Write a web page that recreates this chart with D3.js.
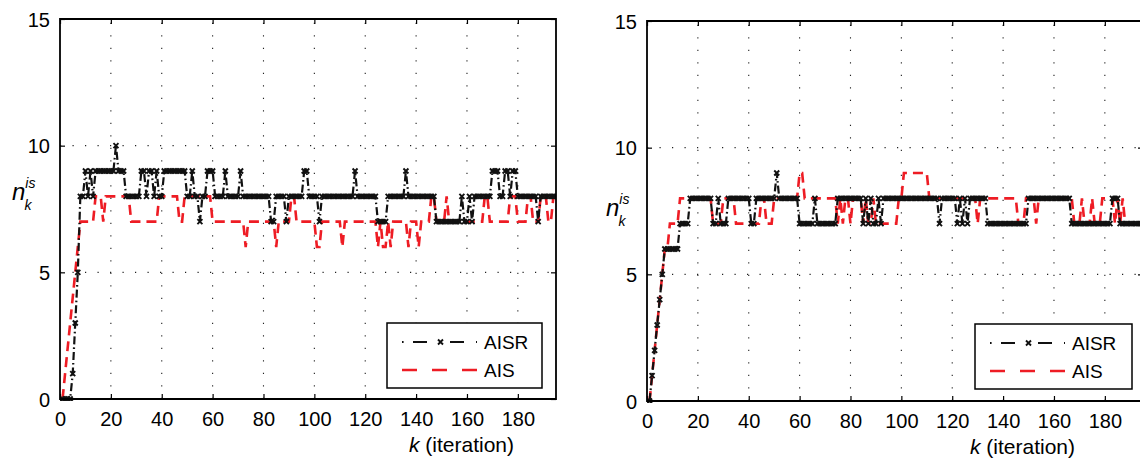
<!DOCTYPE html>
<html>
<head>
<meta charset="utf-8">
<script src="https://cdn.jsdelivr.net/npm/d3@7"></script>
<style>
  html, body { margin: 0; padding: 0; background: #fff; }
  svg { display: block; }
</style>
</head>
<body>
<svg id="chart" width="1140" height="462"></svg>
<script>
// Number of active items n_k^is per iteration k (k = 1..195), two runs.
const xTicks = [0, 20, 40, 60, 80, 100, 120, 140, 160, 180];
const yTicks = [0, 5, 10, 15];
const seriesNames = ["AISR", "AIS"];

const leftAISR = [
  0,0,0,0,1,3,5,8,8,9, 8,9,8,9,9,9,9,9,9,9, 9,10,9,9,9,8,8,8,8,8,
  8,9,9,8,9,9,8,9,8,8, 9,9,9,9,9,9,9,9,9,8, 8,9,8,8,7,8,8,9,9,9,
  8,8,8,8,9,8,8,8,8,8, 9,8,8,8,8,8,8,8,8,8, 8,8,7,7,8,8,8,8,7,8,
  8,8,8,8,8,9,9,8,8,8, 8,7,8,8,8,8,8,8,8,8, 8,8,8,8,8,9,8,8,8,8,
  8,8,8,8,7,7,7,7,8,8, 8,8,8,8,8,9,8,8,8,8, 8,8,8,8,8,8,8,7,7,7,
  7,7,7,7,7,7,7,8,7,7, 8,7,8,8,8,8,8,8,8,9, 9,9,8,8,9,9,8,9,9,8,
  8,8,8,8,8,8,8,7,8,8, 8,8,8,8,8
];
const leftAIS = [
  0,1,2,3,4,5,6,7,7,7, 7,7,7,8,8,8,7,8,8,8, 8,8,8,8,8,8,8,7,7,7,
  7,7,7,7,7,7,7,7,8,8, 8,8,8,8,8,8,7,7,8,8, 8,8,8,8,8,8,8,8,8,7,
  7,7,7,7,7,7,7,7,7,7, 7,7,6,7,7,7,7,7,7,7, 7,7,7,7,6,7,7,7,7,7,
  8,8,7,7,7,7,7,7,7,7, 6,6,7,7,7,7,7,7,7,7, 6,7,7,7,7,7,7,7,7,7,
  7,7,7,7,6,7,6,6,7,6, 7,7,7,7,7,7,6,7,7,7, 6,7,7,7,7,8,8,7,7,7,
  7,8,7,7,7,7,7,7,7,7, 7,7,7,7,7,7,8,8,7,7, 7,7,7,7,7,7,8,8,8,7,
  7,7,7,8,8,7,7,7,8,8, 8,7,7,8,8
];
const rightAISR = [
  0,1,2,3,4,5,6,6,6,6, 6,6,7,7,7,7,8,8,8,8, 8,8,8,8,8,7,7,8,7,7,
  7,8,8,8,8,8,8,8,8,8, 7,7,8,8,8,8,8,8,8,8, 9,8,8,8,8,8,8,8,8,7,
  7,7,7,7,7,8,7,7,7,7, 7,7,7,7,8,8,8,8,8,8, 8,8,8,8,7,8,7,8,7,7,
  8,7,8,8,8,8,8,8,8,8, 8,8,8,8,8,8,8,8,8,8, 8,8,8,8,7,8,8,8,8,8,
  8,7,8,7,8,7,8,8,8,8, 8,8,8,7,7,7,7,7,7,7, 7,7,7,7,7,7,7,7,7,8,
  8,8,8,8,8,8,8,8,8,8, 8,8,8,8,8,8,7,7,7,7, 7,7,7,7,7,7,7,7,7,7,
  7,7,8,8,8,7,7,7,7,7, 7,7,7,7,7
];
const rightAIS = [
  0,1,2,3,4,5,6,6,7,7, 7,7,8,8,8,8,8,8,8,8, 8,8,8,8,8,7,7,7,7,8,
  8,8,8,8,7,7,7,7,7,7, 7,7,7,7,8,8,7,7,7,8, 8,8,8,8,8,8,8,8,8,9,
  9,8,8,8,8,8,8,8,8,8, 8,8,8,8,7,8,7,8,8,7, 8,8,8,8,7,8,7,7,8,7,
  7,7,7,7,7,7,7,7,8,8, 9,9,9,9,9,9,9,9,9,9, 8,8,8,8,8,8,8,8,8,8,
  8,8,8,8,8,8,8,8,8,7, 8,8,8,8,8,8,8,8,8,8, 8,8,8,8,8,7,7,7,8,8,
  8,8,7,8,8,8,8,8,8,8, 8,8,8,8,8,8,8,7,7,7, 8,7,7,7,8,7,7,7,8,8,
  8,8,8,7,8,7,8,7,7,7, 7,7,7,7,7
];

const svg = d3.select("#chart");
const red = "#ee1c24";
const font = "'Liberation Sans', Arial, sans-serif";

// x-marker glyph used on the AISR curve
function cross(s) {
  return `M${-s},${-s}L${s},${s}M${-s},${s}L${s},${-s}`;
}

function drawPanel(cfg) {
  const { left, right, top, bottom, aisr, ais, legend, yLabel, xLabel } = cfg;
  const x = d3.scaleLinear().domain([0, 195]).range([left, right]);
  const y = d3.scaleLinear().domain([0, 15]).range([bottom, top]);
  const g = svg.append("g").attr("font-family", font);

  const clipId = "clip" + Math.round(left);
  g.append("clipPath").attr("id", clipId)
    .append("rect").attr("x", left).attr("y", top - 6)
    .attr("width", right - left).attr("height", bottom - top + 8);

  // dotted grid
  const grid = g.append("g").attr("stroke", "#222").attr("stroke-width", 1.1)
    .attr("stroke-dasharray", "1.2,11.3");
  grid.selectAll("line.gx").data(xTicks.slice(1)).join("line")
    .attr("x1", d => x(d)).attr("x2", d => x(d))
    .attr("y1", bottom).attr("y2", top);
  grid.selectAll("line.gy").data(yTicks.slice(1, -1)).join("line")
    .attr("x1", left).attr("x2", right)
    .attr("y1", d => y(d)).attr("y2", d => y(d));

  // axes (bottom/left with labels, top/right as inward tick frames)
  const axB = d3.axisBottom(x).tickValues(xTicks).tickSize(-5).tickPadding(8).tickFormat(d3.format("d"));
  const axT = d3.axisTop(x).tickValues(xTicks).tickSize(-5).tickFormat("");
  const axL = d3.axisLeft(y).tickValues(yTicks).tickSize(-5).tickPadding(10).tickFormat(d3.format("d"));
  const axR = d3.axisRight(y).tickValues(yTicks).tickSize(-5).tickFormat("");

  const styleAxis = sel => {
    sel.attr("font-family", font).attr("font-size", 20);
    sel.select(".domain").remove();
    sel.selectAll(".tick line").attr("stroke", "#000").attr("stroke-width", 1.2);
    sel.selectAll(".tick text").attr("fill", "#000");
  };
  g.append("g").attr("transform", `translate(0,${bottom})`).call(axB).call(styleAxis)
    .selectAll(".tick text").attr("dy", "0.95em");
  g.append("g").attr("transform", `translate(0,${top})`).call(axT).call(styleAxis);
  g.append("g").attr("transform", `translate(${left},0)`).call(axL).call(styleAxis)
    .selectAll(".tick text").attr("dy", "0.36em");
  g.append("g").attr("transform", `translate(${right},0)`).call(axR).call(styleAxis);

  // data
  const plot = g.append("g").attr("clip-path", `url(#${clipId})`);
  const line = d3.line().x((d, i) => x(i + 1)).y(d => y(d));

  plot.append("path").datum(ais).attr("d", line)
    .attr("fill", "none").attr("stroke", red).attr("stroke-width", 2.6)
    .attr("stroke-dasharray", "10,6");

  plot.append("path").datum(aisr).attr("d", line)
    .attr("fill", "none").attr("stroke", "#111").attr("stroke-width", 2.2)
    .attr("stroke-dasharray", "8,3,1.6,3");
  plot.append("g").selectAll("path").data(aisr).join("path")
    .attr("transform", (d, i) => `translate(${x(i + 1)},${y(d)})`)
    .attr("d", cross(2.5)).attr("stroke", "#111").attr("stroke-width", 1.9).attr("fill", "none");

  // plot frame
  g.append("path")
    .attr("d", `M${left},${top}H${right}V${bottom}H${left}Z`)
    .attr("fill", "none").attr("stroke", "#000").attr("stroke-width", 1.8);

  // legend
  const lg = g.append("g");
  lg.append("rect").attr("x", legend.x).attr("y", legend.y)
    .attr("width", legend.w).attr("height", legend.h)
    .attr("fill", "#fff").attr("stroke", "#000").attr("stroke-width", 1.5);
  const lx0 = legend.x + 15, lx1 = legend.x + 90;
  const r1 = legend.y + 19, r2 = legend.y + 47;
  lg.append("line").attr("x1", lx0).attr("x2", lx1).attr("y1", r1).attr("y2", r1)
    .attr("stroke", "#111").attr("stroke-width", 2).attr("stroke-dasharray", "1.6,9.4,14,12");
  lg.append("path").attr("transform", `translate(${(lx0 + lx1) / 2 + 1},${r1})`)
    .attr("d", cross(2.5)).attr("stroke", "#111").attr("stroke-width", 1.9);
  lg.append("line").attr("x1", lx0).attr("x2", lx1).attr("y1", r2).attr("y2", r2)
    .attr("stroke", red).attr("stroke-width", 2.6).attr("stroke-dasharray", "15,15");
  lg.selectAll("text").data(seriesNames).join("text")
    .attr("x", lx1 + 7).attr("y", (d, i) => (i === 0 ? r1 : r2) + 7)
    .attr("font-size", 19).text(d => d);

  // axis titles
  const xt = g.append("text").attr("x", xLabel.x).attr("y", xLabel.y).attr("font-size", 21);
  xt.append("tspan").attr("font-style", "italic").text("k");
  xt.append("tspan").text(" (iteration)");

  const yt = g.append("text").attr("x", yLabel.x).attr("y", yLabel.y).attr("font-size", 24);
  yt.append("tspan").attr("font-style", "italic").text("n");
  yt.append("tspan").attr("font-style", "italic").attr("font-size", 14)
    .attr("dy", -12).text("is");
  yt.append("tspan").attr("font-style", "italic").attr("font-size", 14)
    .attr("dx", -11).attr("dy", 22).text("k");
}

drawPanel({
  left: 60, right: 556, top: 19, bottom: 399,
  aisr: leftAISR, ais: leftAIS,
  legend: { x: 387, y: 323, w: 155, h: 65 },
  yLabel: { x: 12, y: 200 },
  xLabel: { x: 409, y: 452 }
});
drawPanel({
  left: 647, right: 1143, top: 21, bottom: 401,
  aisr: rightAISR, ais: rightAIS,
  legend: { x: 975, y: 324, w: 157, h: 65 },
  yLabel: { x: 606, y: 216 },
  xLabel: { x: 970, y: 454 }
});
</script>
</body>
</html>
